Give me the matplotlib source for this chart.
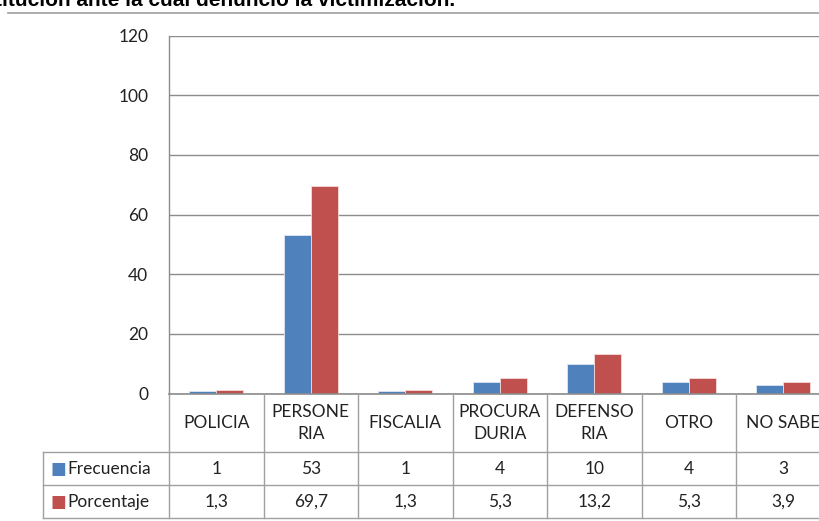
import numpy as np
import matplotlib.pyplot as plt
from matplotlib.lines import Line2D
from matplotlib.transforms import blended_transform_factory

categorias = ["POLICIA", "PERSONE\nRIA", "FISCALIA", "PROCURA\nDURIA", "DEFENSO\nRIA", "OTRO", "NO SABE"]
frecuencia = [1, 53, 1, 4, 10, 4, 3]
porcentaje = [1.3, 69.7, 1.3, 5.3, 13.2, 5.3, 3.9]
series = ["Frecuencia", "Porcentaje"]
colores = ["#4F81BD", "#C0504D"]
titulo = "Institución ante la cual denunció la victimización."

W, H = 820, 521
fig = plt.figure(figsize=(W / 100, H / 100), dpi=100)
plt.rcParams['font.family'] = ['Lato', 'DejaVu Sans']

# zona de trazado en pixeles
x0, x1 = 169, 169 + 7 * 94.5
y_top, y_bot = 35.5, 393.5
ax = fig.add_axes([x0 / W, (H - y_bot) / H, (x1 - x0) / W, (y_bot - y_top) / H])
ax.set_xlim(-0.5, 6.5)
ax.set_ylim(0, 120)
ax.set_yticks(range(0, 121, 20))
ax.set_xticks([])
ax.yaxis.grid(True, color="#8c8c8c", lw=1)
ax.set_axisbelow(True)
for s in ["top", "right", "bottom"]:
    ax.spines[s].set_visible(False)
ax.spines["left"].set_color("#8c8c8c")
ax.tick_params(axis="y", length=0, pad=15, labelsize=12.5, colors="#222222")
ax.spines["left"].set_linewidth(1)

x = np.arange(len(categorias))
w = 1 / 3.5
ax.bar(x - w / 2, frecuencia, w, color=colores[0], edgecolor="#dce6f2", lw=0.6)
ax.bar(x + w / 2, porcentaje, w, color=colores[1], edgecolor="#f2dcdb", lw=0.6)
ax.axhline(0, color="#8c8c8c", lw=1.2, clip_on=False)

# tabla de datos
px = 1.0 / (y_bot - y_top)
tr = blended_transform_factory(ax.transData, ax.transAxes)
y1 = -(452 - y_bot) * px
y2 = -(485 - y_bot) * px
y3 = -(518 - y_bot) * px
lc = "#a0a0a0"
for i in range(len(categorias) + 1):
    ax.add_line(Line2D([i - 0.5, i - 0.5], [0, y3], transform=tr, color=lc, lw=1, clip_on=False))
xl = -0.5 - (x0 - 43) / 94.5
for yy in [y1, y2, y3]:
    ax.add_line(Line2D([xl, 6.5], [yy, yy], transform=tr, color=lc, lw=1, clip_on=False))
ax.add_line(Line2D([xl, xl], [y1, y3], transform=tr, color=lc, lw=1, clip_on=False))

fs = 12.5
for i, c in enumerate(categorias):
    ax.text(i, y1 / 2, c, transform=tr, ha="center", va="center", fontsize=fs,
            linespacing=1.45, color="#222222")
    ax.text(i, (y1 + y2) / 2, str(frecuencia[i]), transform=tr, ha="center", va="center",
            fontsize=fs, color="#222222")
    ax.text(i, (y2 + y3) / 2, f"{porcentaje[i]:.1f}".replace(".", ","), transform=tr,
            ha="center", va="center", fontsize=fs, color="#222222")

for j, (nombre, col) in enumerate(zip(series, colores)):
    yc = [(y1 + y2) / 2, (y2 + y3) / 2][j]
    ax.text(xl + 8 / 94.5, yc, "■", transform=tr, ha="left", va="center", fontsize=12,
            color=col, family="DejaVu Sans")
    ax.text(xl + 24 / 94.5, yc, nombre, transform=tr, ha="left", va="center", fontsize=fs,
            color="#222222")

# titulo recortado y linea
fig.text(455 / W, 1 - 6.5 / H, titulo, ha="right", va="baseline", fontsize=15,
         fontweight="bold", family="Liberation Sans")
fig.add_artist(Line2D([8 / W, 1], [1 - 12.5 / H, 1 - 12.5 / H], color="#a0a0a0", lw=1.2))

fig.savefig("out.png", dpi=100)
